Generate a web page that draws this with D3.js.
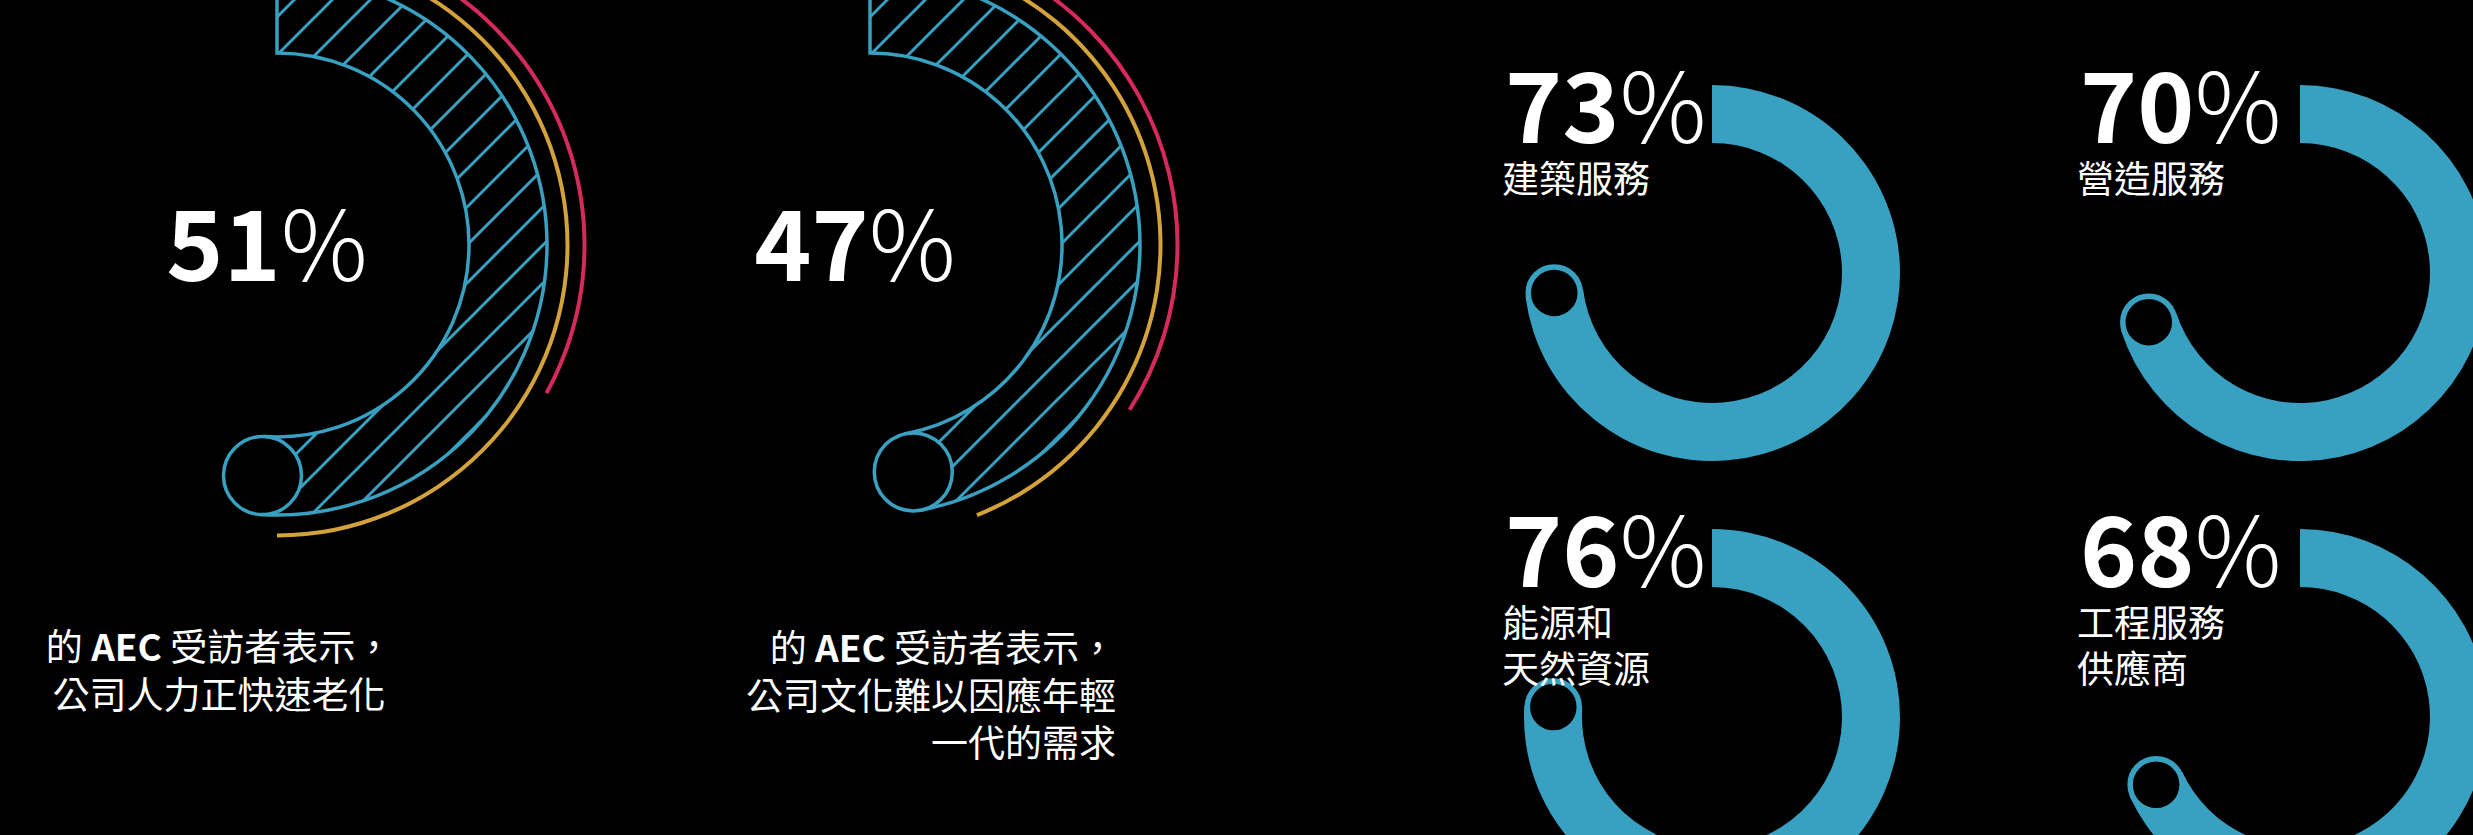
<!DOCTYPE html>
<html>
<head>
<meta charset="utf-8">
<script src="https://cdn.jsdelivr.net/npm/d3@7"></script>
<style>
  html, body { margin: 0; padding: 0; background: #000; overflow: hidden; }
  svg { display: block; }
  text { font-family: "Noto Sans CJK TC", "Noto Sans", sans-serif; fill: #fff; }
</style>
</head>
<body>
<svg id="chart" width="2473" height="835"></svg>
<script>
// survey shares, percent
var gaugeValues = [51, 47];
var gaugeYellow = [50, 44];
var gaugePink = [33, 34];
var gaugeCaptions = [
  ["的 AEC 受訪者表示，", "公司人力正快速老化"],
  ["的 AEC 受訪者表示，", "公司文化難以因應年輕", "一代的需求"]
];

var donutValues = [73, 70, 76, 68];
var donutLabels = [["建築服務"], ["營造服務"], ["能源和", "天然資源"], ["工程服務", "供應商"]];

var svg = d3.select("#chart"),
    width = +svg.attr("width"),
    height = +svg.attr("height");

var blue = "#38a0c0", yellow = "#d4a23a", pink = "#d72a5c";

var angle = d3.scaleLinear().domain([0, 100]).range([0, 2 * Math.PI]);

svg.append("rect").attr("width", width).attr("height", height).attr("fill", "#000");

// diagonal hatch for the big gauges
var hs = 38;
var pat = svg.append("defs").append("pattern")
    .attr("id", "hatch")
    .attr("patternUnits", "userSpaceOnUse")
    .attr("width", hs)
    .attr("height", hs);
pat.append("path")
    .attr("d", "M-8,8 L8,-8 M0," + hs + " L" + hs + ",0 M" + (hs - 8) + "," + (hs + 8) + " L" + (hs + 8) + "," + (hs - 8))
    .attr("stroke", blue)
    .attr("stroke-width", 3);

function percentText(sel, v) {
  sel.append("tspan").attr("font-weight", 700).text(v);
  sel.append("tspan").attr("font-weight", 300).text("%");
}

// ---- left: hatched gauges ----
var gaugeCx = [277, 870], gaugeCy = 245;
var gIn = 192, gOut = 270, gMid = (gIn + gOut) / 2;
var numX = [267, 855];
var capX = [219, 1116], capAnchor = ["middle", "end"], capY0 = [661, 662];

gaugeValues.forEach(function(v, i) {
  var g = svg.append("g").attr("transform", "translate(" + gaugeCx[i] + "," + gaugeCy + ")");

  g.append("path")
      .attr("d", d3.arc().innerRadius(305.5).outerRadius(309.5)
        .startAngle(0).endAngle(angle(gaugePink[i]))())
      .attr("fill", pink);

  g.append("path")
      .attr("d", d3.arc().innerRadius(288.5).outerRadius(292.5)
        .startAngle(0).endAngle(angle(gaugeYellow[i]))())
      .attr("fill", yellow);

  g.append("path")
      .attr("d", d3.arc().innerRadius(gIn).outerRadius(gOut)
        .startAngle(0).endAngle(angle(v))())
      .attr("fill", "url(#hatch)")
      .attr("stroke", blue)
      .attr("stroke-width", 3.5);

  var a = angle(v);
  g.append("circle")
      .attr("cx", gMid * Math.sin(a))
      .attr("cy", -gMid * Math.cos(a))
      .attr("r", (gOut - gIn) / 2)
      .attr("fill", "#000")
      .attr("stroke", blue)
      .attr("stroke-width", 3.5);

  svg.append("text")
      .attr("x", numX[i])
      .attr("y", 281)
      .attr("text-anchor", "middle")
      .style("font-size", "97px")
      .call(percentText, v);

  gaugeCaptions[i].forEach(function(line, j) {
    var t = svg.append("text")
        .attr("x", capX[i])
        .attr("y", capY0[i] + j * 47.5)
        .attr("text-anchor", capAnchor[i])
        .style("font-size", "37px");
    line.split(/(AEC)/).forEach(function(part) {
      if (!part) return;
      t.append("tspan").attr("font-weight", part === "AEC" ? 700 : 400).text(part);
    });
  });
});

// ---- right: solid donuts ----
var donutCx = [1712, 2300, 1712, 2300], donutCy = [273, 273, 717, 717];
var dIn = 130, dOut = 188, dMid = (dIn + dOut) / 2;
var labelX = [1502, 2077, 1502, 2077];

donutValues.forEach(function(v, i) {
  var g = svg.append("g").attr("transform", "translate(" + donutCx[i] + "," + donutCy[i] + ")");
  var a = angle(v);

  g.append("path")
      .attr("d", d3.arc().innerRadius(dIn).outerRadius(dOut).startAngle(0).endAngle(a)())
      .attr("fill", blue);

  g.append("circle")
      .attr("cx", dMid * Math.sin(a))
      .attr("cy", -dMid * Math.cos(a))
      .attr("r", 26)
      .attr("fill", "#000")
      .attr("stroke", blue)
      .attr("stroke-width", 5.5);

  var baseY = donutCy[i] - 130;
  svg.append("text")
      .attr("x", labelX[i] + 3)
      .attr("y", baseY)
      .style("font-size", "97px")
      .call(percentText, v);

  donutLabels[i].forEach(function(line, j) {
    svg.append("text")
        .attr("x", labelX[i])
        .attr("y", baseY + 50 + j * 46)
        .style("font-size", "37px")
        .text(line);
  });
});
</script>
</body>
</html>
